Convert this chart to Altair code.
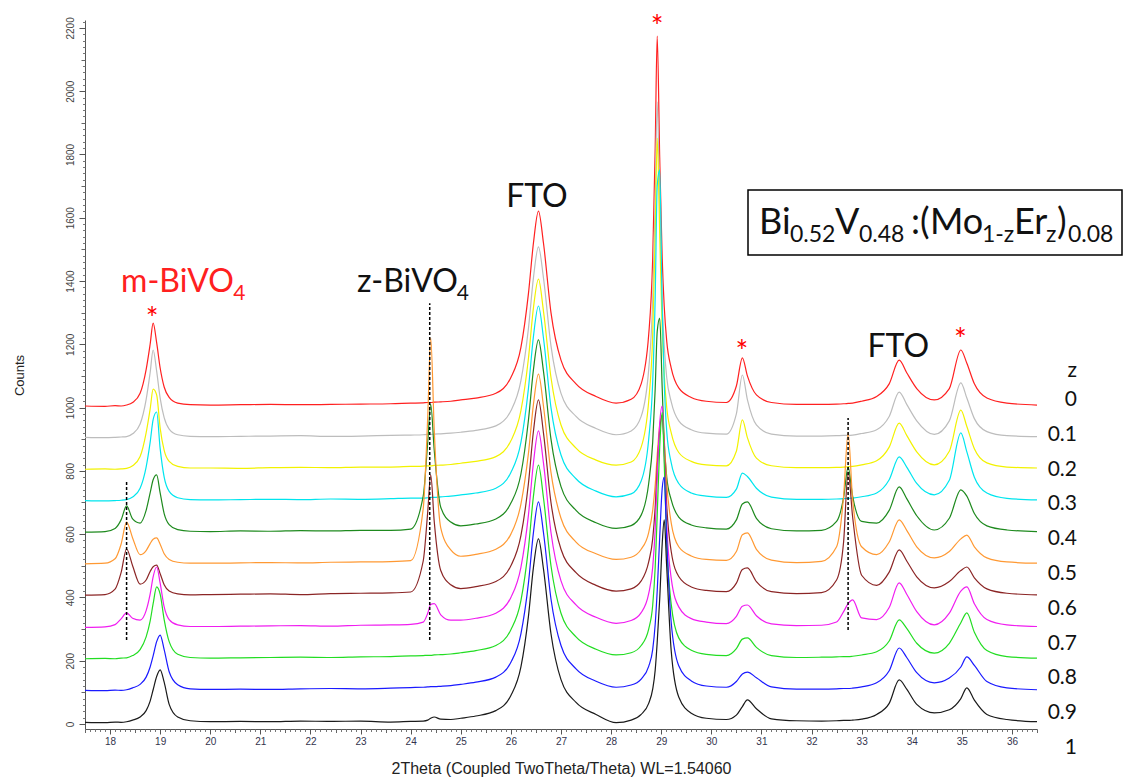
import altair as alt
import pandas as pd

# 2-theta positions (degrees) at which every pattern is sampled
two_theta = [
    17.5, 17.9, 18.1, 18.22, 18.33, 18.45, 18.6, 18.72, 18.8, 18.86, 18.93, 19.0, 19.08, 19.18, 19.35, 19.6,
    20.0, 20.6, 21.2, 21.8, 22.4, 23.0, 23.6, 24.0,
    24.25, 24.34, 24.4, 24.47, 24.6, 24.8,
    25.0, 25.3, 25.7, 26.0, 26.2, 26.35, 26.45, 26.55, 26.65, 26.8, 27.0, 27.3, 27.7, 28.1,
    28.4, 28.6, 28.75, 28.83, 28.88, 28.92, 28.97, 29.02, 29.06, 29.11, 29.2, 29.35, 29.6, 29.9,
    30.3, 30.5, 30.62, 30.72, 30.9, 31.2,
    31.7, 32.2, 32.5, 32.64, 32.73, 32.82, 33.0,
    33.3, 33.55, 33.75, 33.9, 34.1, 34.45, 34.75, 34.98, 35.1, 35.25, 35.5, 35.9, 36.5,
]

z_levels = ["0", "0.1", "0.2", "0.3", "0.4", "0.5", "0.6", "0.7", "0.8", "0.9", "1"]
stack_offsets = [1000, 900, 800, 700, 600, 500, 400, 300, 200, 100, 0]
trace_colors = ["#ff2020", "#bdbdbd", "#f2f200", "#00e5ee", "#1e8a1e", "#ff9933",
                "#8b2525", "#f01ef0", "#22dd22", "#1a1aff", "#1a1a1a"]

# counts above each pattern's stacking offset
counts_z00 = [5, 4, 6, 5, 8, 16, 45, 120, 200, 267, 205, 125, 65, 32, 14, 9,
              8, 9, 10, 9, 10, 11, 12, 14,
              15, 16, 16, 17, 18, 20,
              24, 30, 45, 95, 190, 360, 520, 621, 520, 300, 150, 75, 35, 14,
              26, 75, 230, 470, 820, 1174, 790, 470, 320, 210, 125, 62, 32, 20,
              16, 68, 157, 100, 40, 16,
              10, 10, 11, 12, 13, 14, 20,
              35, 75, 150, 110, 60, 24, 60, 182, 140, 75, 30, 14, 8]
counts_z01 = [6, 5, 6, 7, 8, 17, 48, 125, 210, 282, 215, 130, 68, 32, 14, 9,
              8, 9, 10, 11, 9, 10, 12, 13,
              14, 15, 15, 16, 17, 19,
              22, 28, 42, 90, 185, 350, 510, 608, 510, 295, 145, 72, 34, 14,
              26, 72, 220, 440, 760, 1066, 730, 430, 295, 195, 118, 58, 30, 19,
              16, 80, 203, 125, 45, 16,
              10, 10, 11, 12, 12, 13, 18,
              30, 72, 149, 110, 58, 15, 58, 178, 130, 65, 24, 11, 8]
counts_z02 = [5, 6, 5, 6, 8, 16, 45, 120, 195, 258, 240, 135, 65, 30, 14, 9,
              9, 8, 10, 11, 10, 12, 12, 14,
              15, 16, 16, 17, 18, 20,
              24, 30, 45, 95, 190, 355, 515, 606, 505, 295, 145, 72, 34, 18,
              28, 75, 220, 430, 750, 1052, 750, 445, 305, 200, 120, 58, 30, 19,
              16, 62, 161, 105, 40, 16,
              10, 10, 11, 12, 13, 14, 19,
              32, 75, 151, 112, 60, 19, 62, 192, 140, 70, 25, 12, 9]
counts_z03 = [6, 5, 6, 7, 9, 17, 45, 112, 190, 262, 286, 170, 80, 35, 15, 9,
              8, 9, 10, 9, 11, 10, 12, 14,
              14, 15, 16, 16, 18, 20,
              24, 30, 45, 95, 190, 360, 525, 621, 520, 300, 150, 75, 36, 18,
              27, 68, 200, 380, 650, 1000, 1051, 610, 380, 225, 125, 60, 30, 20,
              16, 42, 93, 82, 45, 17,
              10, 10, 11, 12, 13, 14, 18,
              30, 72, 144, 112, 60, 24, 70, 220, 160, 80, 30, 13, 8]
counts_z04 = [6, 8, 18, 45, 89, 48, 35, 75, 130, 172, 187, 130, 65, 30, 14, 9,
              8, 10, 9, 11, 10, 12, 12, 16,
              120, 290, 410, 265, 85, 38,
              26, 32, 48, 98, 190, 360, 520, 614, 515, 300, 150, 75, 36, 18,
              27, 60, 160, 290, 460, 640, 683, 460, 290, 180, 108, 54, 29, 20,
              16, 45, 95, 102, 50, 17,
              10, 12, 40, 115, 212, 120, 40,
              35, 75, 149, 112, 58, 13, 50, 140, 120, 65, 26, 13, 8]
counts_z05 = [6, 8, 22, 68, 138, 88, 35, 48, 70, 84, 88, 68, 38, 20, 11, 8,
              8, 9, 10, 9, 11, 12, 13, 16,
              180, 470, 720, 430, 120, 50,
              30, 36, 52, 100, 195, 355, 510, 606, 505, 295, 150, 75, 38, 20,
              27, 52, 105, 175, 255, 350, 445, 477, 400, 260, 135, 60, 31, 20,
              17, 45, 98, 104, 52, 18,
              10, 14, 60, 220, 420, 210, 60,
              35, 75, 145, 112, 60, 25, 45, 85, 97, 60, 25, 12, 8]
counts_z06 = [7, 9, 26, 78, 153, 100, 42, 55, 82, 97, 102, 75, 40, 20, 11, 8,
              9, 10, 11, 9, 12, 13, 14, 17,
              115, 270, 387, 240, 85, 40,
              28, 34, 50, 100, 195, 360, 525, 624, 520, 300, 152, 78, 38, 20,
              27, 52, 112, 185, 285, 410, 530, 575, 470, 290, 145, 66, 33, 22,
              18, 45, 88, 93, 50, 18,
              12, 15, 55, 175, 396, 255, 70,
              38, 80, 150, 115, 65, 30, 50, 85, 96, 62, 27, 13, 8]
counts_z07 = [5, 7, 14, 32, 51, 34, 28, 58, 110, 165, 196, 145, 70, 30, 13, 8,
              8, 9, 10, 11, 9, 12, 13, 15,
              22, 50, 78, 80, 45, 28,
              28, 34, 50, 100, 195, 360, 525, 626, 525, 305, 152, 76, 37, 18,
              27, 52, 112, 195, 315, 480, 650, 705, 555, 330, 160, 70, 33, 22,
              17, 40, 72, 76, 42, 16,
              11, 12, 22, 55, 80, 92, 35,
              30, 68, 146, 110, 55, 13, 50, 120, 133, 80, 30, 13, 8]
counts_z08 = [6, 7, 6, 8, 9, 16, 35, 75, 125, 180, 233, 210, 130, 60, 20, 10,
              8, 9, 10, 11, 10, 12, 13, 15,
              16, 17, 17, 18, 19, 21,
              25, 32, 48, 98, 190, 355, 520, 618, 515, 300, 150, 75, 36, 18,
              25, 48, 100, 175, 295, 460, 675, 785, 625, 375, 178, 72, 33, 20,
              16, 38, 68, 72, 42, 16,
              10, 11, 12, 13, 13, 14, 18,
              28, 62, 129, 102, 55, 24, 55, 120, 151, 90, 32, 13, 8]
counts_z09 = [6, 5, 7, 6, 8, 14, 25, 48, 80, 115, 160, 181, 135, 65, 24, 11,
              9, 10, 9, 11, 12, 11, 13, 15,
              16, 17, 18, 18, 19, 21,
              25, 32, 48, 95, 185, 345, 505, 602, 505, 295, 148, 74, 35, 16,
              23, 42, 82, 135, 215, 320, 490, 645, 680, 480, 220, 84, 36, 20,
              16, 34, 58, 64, 46, 17,
              10, 10, 11, 12, 12, 13, 17,
              30, 68, 140, 110, 62, 30, 45, 80, 112, 85, 34, 14, 8]
counts_z10 = [5, 4, 6, 5, 7, 12, 22, 42, 72, 108, 150, 171, 132, 62, 22, 10,
              7, 8, 7, 9, 8, 9, 6, 8,
              9, 12, 18, 22, 15, 14,
              18, 25, 42, 90, 180, 340, 495, 585, 490, 285, 140, 68, 30, 4,
              12, 30, 65, 110, 170, 258, 395, 570, 645, 495, 230, 85, 34, 18,
              14, 28, 55, 76, 48, 16,
              10, 9, 10, 11, 11, 12, 15,
              30, 65, 139, 110, 62, 35, 45, 80, 114, 75, 30, 14, 7]

patterns = [counts_z00, counts_z01, counts_z02, counts_z03, counts_z04, counts_z05,
            counts_z06, counts_z07, counts_z08, counts_z09, counts_z10]

# marked reflections and phase guides
star_theta = [18.84, 28.92, 30.61, 34.97]
star_counts = [1302, 2225, 1198, 1236]
guide_theta = [18.33, 24.38, 32.73]
guide_low = [265, 265, 297]
guide_high = [765, 1330, 967]

rows = []
for z, off, vals in zip(z_levels, stack_offsets, patterns):
    for t, c in zip(two_theta, vals):
        rows.append({"two_theta": t, "counts": off + c, "z": z})
traces = pd.DataFrame(rows)

x_scale = alt.Scale(domain=[17.5, 36.5], nice=False, zero=False)
y_scale = alt.Scale(domain=[-16, 2225], nice=False, zero=False)

AXIS_FONT = "Liberation Sans"
TEXT_FONT = "Lato"


def xy(x_axis=None, y_axis=None, xf="two_theta", yf="counts"):
    return dict(x=alt.X(f"{xf}:Q", scale=x_scale, axis=x_axis),
                y=alt.Y(f"{yf}:Q", scale=y_scale, axis=y_axis))


layers = []

# one line per composition, drawn from z = 0 upward so lower traces sit on top
for z, color in zip(z_levels, trace_colors):
    layers.append(
        alt.Chart(traces[traces.z == z]).mark_line(
            color=color, strokeWidth=1.2, interpolate="monotone"
        ).encode(**xy())
    )

# axes: major ticks with labels, half ticks and fine ticks as separate overlaid axes
frame = pd.DataFrame({"two_theta": [17.5, 36.5], "counts": [0, 2200]})
x_major = alt.Axis(
    orient="bottom", values=list(range(18, 37)), format="d", tickSize=5,
    tickColor="#555", domainColor="#555", labelFont=AXIS_FONT, labelFontSize=10,
    labelColor="#33334d", labelPadding=2, labelFlush=False, labelOverlap=False, grid=False,
    title="2Theta (Coupled TwoTheta/Theta) WL=1.54060", titleFont=AXIS_FONT,
    titleFontSize=16, titleFontWeight="normal", titleColor="#222", titleY=39,
    titleBaseline="middle",
)
y_major = alt.Axis(
    orient="left", values=list(range(0, 2201, 200)), format="d", tickSize=6, tickColor="#555",
    domainColor="#555", labelFont=AXIS_FONT, labelFontSize=10, labelColor="#444",
    labelAngle=270, labelAlign="center", labelBaseline="bottom", labelPadding=4,
    labelFlush=False, labelOverlap=False, grid=False,
    title="Counts", titleFont=AXIS_FONT, titleFontSize=13, titleFontWeight="normal",
    titleColor="#222", titleAngle=270, titleX=-62, titleY=355, titleAlign="center",
    titleBaseline="alphabetic",
)
x_half = alt.Axis(orient="bottom", values=[v + 0.5 for v in range(17, 37)], tickSize=3.5,
                  tickColor="#666", labels=False, domain=False, grid=False, title=None)
y_half = alt.Axis(orient="left", values=list(range(100, 2201, 200)), tickSize=4,
                  tickColor="#666", labels=False, domain=False, grid=False, title=None)
x_fine = alt.Axis(orient="bottom",
                  values=[round(17.5 + i * 0.1, 1) for i in range(191) if i % 5 != 0],
                  tickSize=2.5, tickColor="#777", labels=False, domain=False, grid=False,
                  title=None)
y_fine = alt.Axis(orient="left", values=[v for v in range(0, 2221, 20) if v % 100 != 0],
                  tickSize=2.5, tickColor="#777", labels=False, domain=False, grid=False,
                  title=None)
for xa, ya in [(x_major, y_major), (x_half, y_half), (x_fine, y_fine)]:
    layers.append(alt.Chart(frame).mark_point(opacity=0).encode(**xy(xa, ya)))

# dashed guides for the zircon-type reflections
guides = pd.DataFrame({"two_theta": guide_theta, "counts": guide_low, "top": guide_high})
layers.append(
    alt.Chart(guides).mark_rule(color="black", strokeWidth=1.5, strokeDash=[3, 2]).encode(
        **xy(), y2="top:Q")
)

# asterisks on monoclinic BiVO4 reflections
stars = pd.DataFrame({"two_theta": star_theta, "counts": star_counts})
layers.append(
    alt.Chart(stars).mark_text(text="*", color="#ff0000", font=TEXT_FONT, fontSize=30,
                               baseline="alphabetic", dy=17).encode(**xy())
)

# peak labels placed in data units
labels = pd.DataFrame([
    {"two_theta": 26.52, "counts": 1634, "t": "FTO", "c": "#111", "s": 32, "a": "center"},
    {"two_theta": 33.73, "counts": 1160, "t": "FTO", "c": "#111", "s": 32, "a": "center"},
    {"two_theta": 18.22, "counts": 1366, "t": "m-BiVO", "c": "#ff2020", "s": 32, "a": "left"},
    {"two_theta": 20.46, "counts": 1341, "t": "4", "c": "#ff2020", "s": 21, "a": "left"},
    {"two_theta": 22.93, "counts": 1366, "t": "z-BiVO", "c": "#111", "s": 32, "a": "left"},
    {"two_theta": 24.92, "counts": 1341, "t": "4", "c": "#111", "s": 21, "a": "left"},
])
for i, r in labels.iterrows():
    layers.append(
        alt.Chart(labels.iloc[[i]]).mark_text(
            font=TEXT_FONT, fontSize=int(r.s), color=r.c, align=r.a, baseline="alphabetic"
        ).encode(**xy(), text="t:N")
    )

one = pd.DataFrame({"k": [0]})

# composition box
layers.append(
    alt.Chart(one).mark_rect(fill="white", stroke="black", strokeWidth=1.5).encode(
        x=alt.value(663), x2=alt.value(1037), y=alt.value(170), y2=alt.value(235))
)
formula_parts = [
    ("Bi", 674, False), ("0.52", 705, True), ("V", 750, False), ("0.48", 774, True),
    (":(", 826, False), ("Mo", 845, False), ("1-z", 897, True), ("Er", 929, False),
    ("z", 961, True), (")", 972, False), ("0.08", 983, True),
]
for txt, px, sub in formula_parts:
    layers.append(
        alt.Chart(one).mark_text(
            text=txt, font=TEXT_FONT, fontSize=23 if sub else 36, color="#111",
            align="left", baseline="alphabetic"
        ).encode(x=alt.value(px), y=alt.value(222 if sub else 214))
    )

# composition key on the right
key_texts = ["z"] + z_levels
key_y = [351] + [380 + 34.8 * i for i in range(len(z_levels))]
for txt, py in zip(key_texts, key_y):
    layers.append(
        alt.Chart(one).mark_text(
            text=txt, font=TEXT_FONT, fontSize=21, color="#111", align="right",
            baseline="middle"
        ).encode(x=alt.value(992), y=alt.value(py))
    )

chart = alt.layer(*layers).resolve_axis(x="independent", y="independent").properties(
    width=952, height=709,
    padding={"left": 85, "top": 20, "right": 90, "bottom": 50},
    autosize=alt.AutoSizeParams(type="none"),
    background="white",
).configure_view(stroke=None)

chart.save("out.html", embed_options={"renderer": "svg", "actions": False})
